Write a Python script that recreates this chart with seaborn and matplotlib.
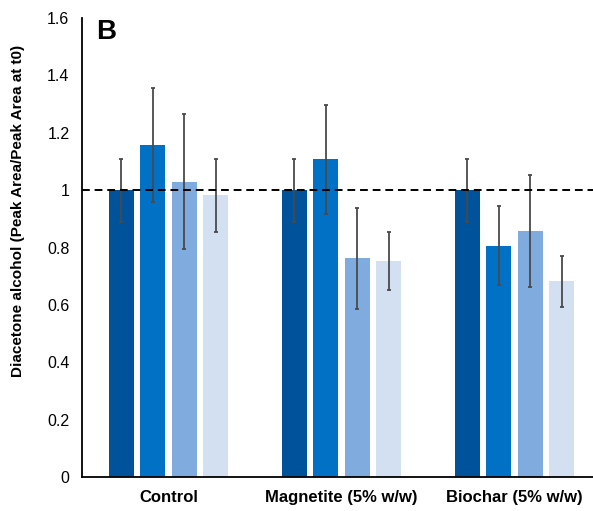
import numpy as np
import pandas as pd
import matplotlib
matplotlib.use("Agg")
import matplotlib.pyplot as plt
import seaborn as sns

categories = ["Control", "Magnetite (5% w/w)", "Biochar (5% w/w)"]
series = ["t0", "t1", "t2", "t3"]
values = {
    "t0": [1.00, 1.00, 1.00],
    "t1": [1.157, 1.107, 0.806],
    "t2": [1.03, 0.762, 0.857],
    "t3": [0.982, 0.753, 0.682],
}
errors = {
    "t0": [0.11, 0.11, 0.11],
    "t1": [0.198, 0.189, 0.138],
    "t2": [0.235, 0.175, 0.196],
    "t3": [0.127, 0.10, 0.09],
}
colors = ["#00529B", "#0071C5", "#7FABDE", "#D3E0F1"]
ytick_vals = [0, 0.2, 0.4, 0.6, 0.8, 1.0, 1.2, 1.4, 1.6]
ytick_labels = ["0", "0.2", "0.4", "0.6", "0.8", "1", "1.2", "1.4", "1.6"]

rows = []
for s in series:
    for c, v in zip(categories, values[s]):
        rows.append({"category": c, "series": s, "value": v})
df = pd.DataFrame(rows)

sns.set_theme(style="white")
plt.rcParams["font.family"] = ["Liberation Sans", "DejaVu Sans"]

fig = plt.figure(figsize=(5.93, 5.11), dpi=100)
ax = fig.add_axes([82 / 593, 34 / 511, 1 - 82 / 593, 459 / 511])

sns.barplot(data=df, x="category", y="value", hue="series", order=categories,
            hue_order=series, palette=colors, width=0.73, gap=0.2,
            errorbar=None, legend=False, ax=ax, saturation=1, linewidth=0)

for s, cont in zip(series, ax.containers):
    xs = [b.get_x() + b.get_width() / 2 for b in cont]
    hs = [b.get_height() for b in cont]
    ax.errorbar(xs, hs, yerr=errors[s], fmt="none", ecolor="#4a4a4a",
                elinewidth=1.3, capsize=1.6, capthick=1.3, zorder=4)

ax.axhline(1.0, color="black", linestyle=(0, (4, 2.5)), linewidth=1.4, zorder=5)

ax.set_ylim(0, 1.6)
ax.set_xlim(-0.5, -0.5 + (593 - 82) / 173)
ax.set_yticks(ytick_vals)
ax.set_yticklabels(ytick_labels, fontsize=11.5)
ax.set_xticks(range(len(categories)))
ax.set_xticklabels(categories, fontsize=12, fontweight="bold")
ax.set_xticks([-0.5, 0.5, 1.5], minor=True)
ax.tick_params(axis="x", which="major", length=0, pad=9)
ax.tick_params(axis="x", which="minor", length=4, width=1.2, color="black", direction="out")
ax.tick_params(axis="y", length=4, width=1.2, color="black", direction="out", pad=5)
ax.tick_params(axis="both", labelcolor="black")

ax.set_xlabel("")
ax.set_ylabel("Diacetone alcohol (Peak Area/Peak Area at t0)", fontsize=11,
              fontweight="bold", color="black")
ax.yaxis.set_label_coords(-0.112, 0.58)

for side in ["top", "right"]:
    ax.spines[side].set_visible(False)
for side in ["left", "bottom"]:
    ax.spines[side].set_color("black")
    ax.spines[side].set_linewidth(1.3)

ax.text(0.027, 0.997, "B", transform=ax.transAxes, fontsize=20,
        fontweight="bold", va="top", ha="left", color="black")

fig.savefig("out.png", dpi=100)
